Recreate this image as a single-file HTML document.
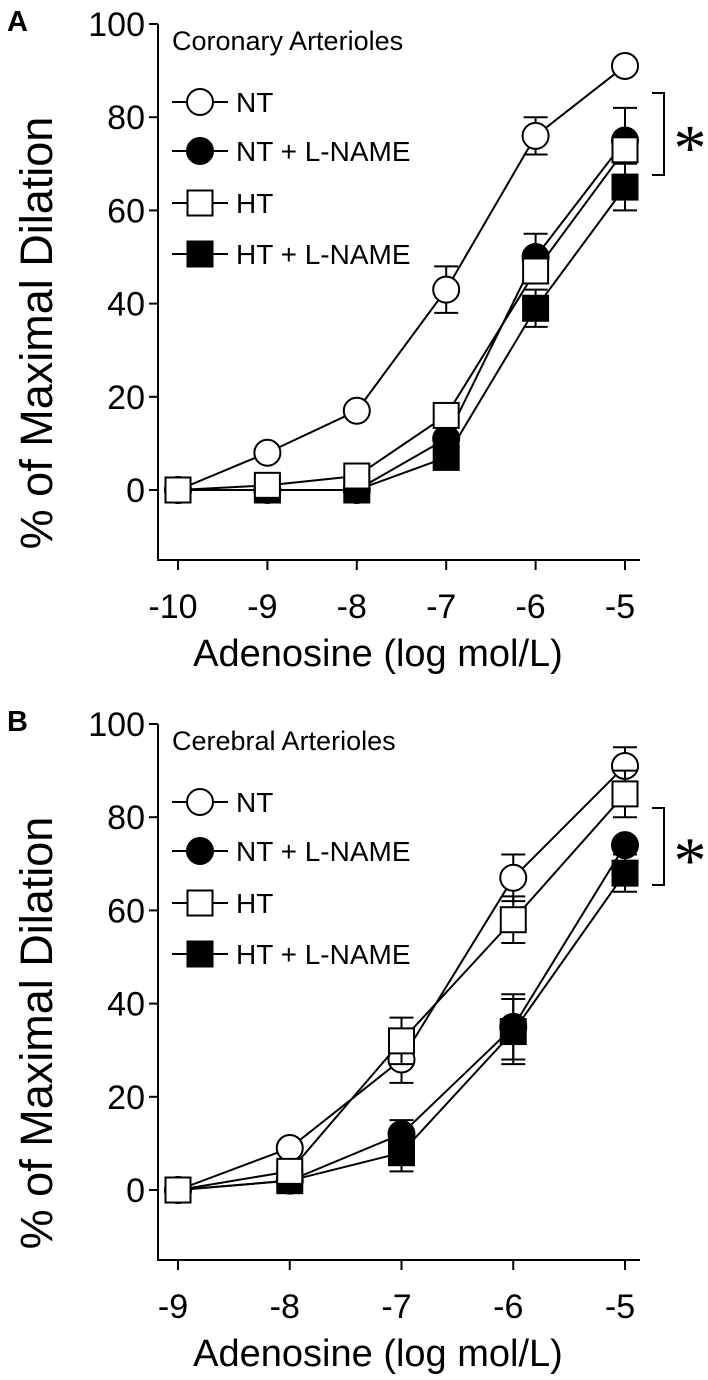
<!DOCTYPE html>
<html><head><meta charset="utf-8"><style>
html,body{margin:0;padding:0;background:#fff;}
svg{display:block;font-family:"Liberation Sans",Arial,sans-serif;}
</style></head><body>
<svg id="fig" width="708" height="1380" viewBox="0 0 708 1380" xmlns="http://www.w3.org/2000/svg"></svg>
<script>
// Panel A data
const xA = [-10,-9,-8,-7,-6,-5];
const A_NT = [0,8,17,43,76,91];
const A_NT_err = [0,0,0,5,4,0];
const A_NTL = [0,0,0,11,50,75];
const A_NTL_err = [0,0,0,0,5,0];
const A_HT = [0,1,3,16,47,73];
const A_HT_err = [0,0,0,0,0,9];
const A_HTL = [0,0,0,7,39,65];
const A_HTL_err = [0,0,0,0,4,5];
const xTicksA = ["-10","-9","-8","-7","-6","-5"];
// Panel B data
const xB = [-9,-8,-7,-6,-5];
const B_NT = [0,9,28,67,91];
const B_NT_err = [0,0,5,5,4];
const B_NTL = [0,2,12,35,74];
const B_NTL_err = [0,0,3,7,0];
const B_HT = [0,4,32,58,85];
const B_HT_err = [0,0,5,5,5];
const B_HTL = [0,2,8,34,68];
const B_HTL_err = [0,0,4,7,4];
const xTicksB = ["-9","-8","-7","-6","-5"];
const yTicks = [0,20,40,60,80,100];

const NS="http://www.w3.org/2000/svg";
const svg=document.getElementById('fig');
function el(tag,attrs,parent,text){const e=document.createElementNS(NS,tag);for(const k in attrs)e.setAttribute(k,attrs[k]);if(text!==undefined)e.textContent=text;(parent||svg).appendChild(e);return e;}

function panel(off,letter,title,xs,ticks,series,xMin,xMax,bracket){
  const g=el('g',{});
  
  
  const x0=158,x1=640,yAx=560+off;
  const px0=178,px1=625;
  const X=v=>px0+(v-xMin)/(xMax-xMin)*(px1-px0);
  const Y=v=>490+off-v*4.66;
  const lt=el('text',{x:7,y:31+off,'font-size':29,'font-weight':'bold'},g,letter);
  
  const ax=el('path',{d:`M${x0} ${Y(100)}V${yAx}H${x1}`,fill:'none',stroke:'#000','stroke-width':2},g);
  
  yTicks.forEach(t=>{
    el('line',{x1:x0-9,x2:x0,y1:Y(t),y2:Y(t),stroke:'#000','stroke-width':2},g);
    const tx=el('text',{x:x0-13,y:Y(t)+12,'font-size':34,'text-anchor':'end'},g,String(t));
    
  });
  xs.forEach((v,i)=>{
    el('line',{x1:X(v),x2:X(v),y1:yAx,y2:yAx+10,stroke:'#000','stroke-width':2},g);
    const tx=el('text',{x:X(v)-5,y:yAx+58,'font-size':34,'text-anchor':'middle'},g,ticks[i]);
    
  });
  const xt=el('text',{x:378,y:yAx+106,'font-size':38,'text-anchor':'middle'},g,'Adenosine (log mol/L)');
  
  const yt=el('text',{x:0,y:0,'font-size':45,'text-anchor':'middle',transform:`translate(52 ${333+off}) rotate(-90)`},g,'% of Maximal Dilation');
  
  const tt=el('text',{x:172,y:50+off,'font-size':27},g,title);
  
  function marker(parent,shape,filled,cx,cy){
    if(shape==='c') return el('circle',{cx,cy,r:13,fill:filled?'#000':'#fff',stroke:'#000','stroke-width':2},parent);
    return el('rect',{x:cx-12.5,y:cy-12.5,width:25,height:25,fill:filled?'#000':'#fff',stroke:'#000','stroke-width':2},parent);
  }
  series.forEach(s=>{
    const pts=xs.map((v,i)=>X(v)+','+Y(s.vals[i])).join(' ');
    const pl=el('polyline',{points:pts,fill:'none',stroke:'#000','stroke-width':2},g);
    
  });
  series.forEach(s=>{
    xs.forEach((v,i)=>{
      const e=s.err[i];
      if(e>0){
        const cx=X(v),yt1=Y(s.vals[i]+e),yb=Y(s.vals[i]-e);
        el('path',{d:`M${cx} ${yt1}V${yb}M${cx-12} ${yt1}H${cx+12}M${cx-12} ${yb}H${cx+12}`,stroke:'#000','stroke-width':2,fill:'none'},g);
      }
      const m=marker(g,s.shape,s.filled,X(v),Y(s.vals[i]));
      
    });
  });
  const legY=[102,151,203,254];
  const leg=[{n:'NT',s:'c',f:false},{n:'NT + L-NAME',s:'c',f:true},{n:'HT',s:'r',f:false},{n:'HT + L-NAME',s:'r',f:true}];
  leg.forEach((l,i)=>{
    const lg=el('g',{},g);
    
    const y=legY[i]+off;
    el('line',{x1:172,x2:228,y1:y,y2:y,stroke:'#000','stroke-width':2},lg);
    marker(lg,l.s,l.f,200,y);
    el('text',{x:236,y:y+10,'font-size':28},lg,l.n);
  });
  const br=el('path',{d:`M652 ${bracket[0]+off}H664V${bracket[1]+off}H652`,fill:'none',stroke:'#000','stroke-width':2},g);
  
  const st=el('text',{x:690,y:(bracket[0]+bracket[1])/2+off+36,'font-size':66,'text-anchor':'middle','font-family':'Liberation Serif, serif'},g,'*');
  
}
panel(0,'A','Coronary Arterioles',xA,xTicksA,[
  {key:'ht-lname',vals:A_HTL,err:A_HTL_err,shape:'r',filled:true},
  {key:'nt-lname',vals:A_NTL,err:A_NTL_err,shape:'c',filled:true},
  {key:'nt',vals:A_NT,err:A_NT_err,shape:'c',filled:false},
  {key:'ht',vals:A_HT,err:A_HT_err,shape:'r',filled:false}],-10,-5,[93,175]);
panel(700,'B','Cerebral Arterioles',xB,xTicksB,[
  {key:'ht-lname',vals:B_HTL,err:B_HTL_err,shape:'r',filled:true},
  {key:'nt-lname',vals:B_NTL,err:B_NTL_err,shape:'c',filled:true},
  {key:'nt',vals:B_NT,err:B_NT_err,shape:'c',filled:false},
  {key:'ht',vals:B_HT,err:B_HT_err,shape:'r',filled:false}],-9,-5,[108,185]);
</script>
</body></html>
